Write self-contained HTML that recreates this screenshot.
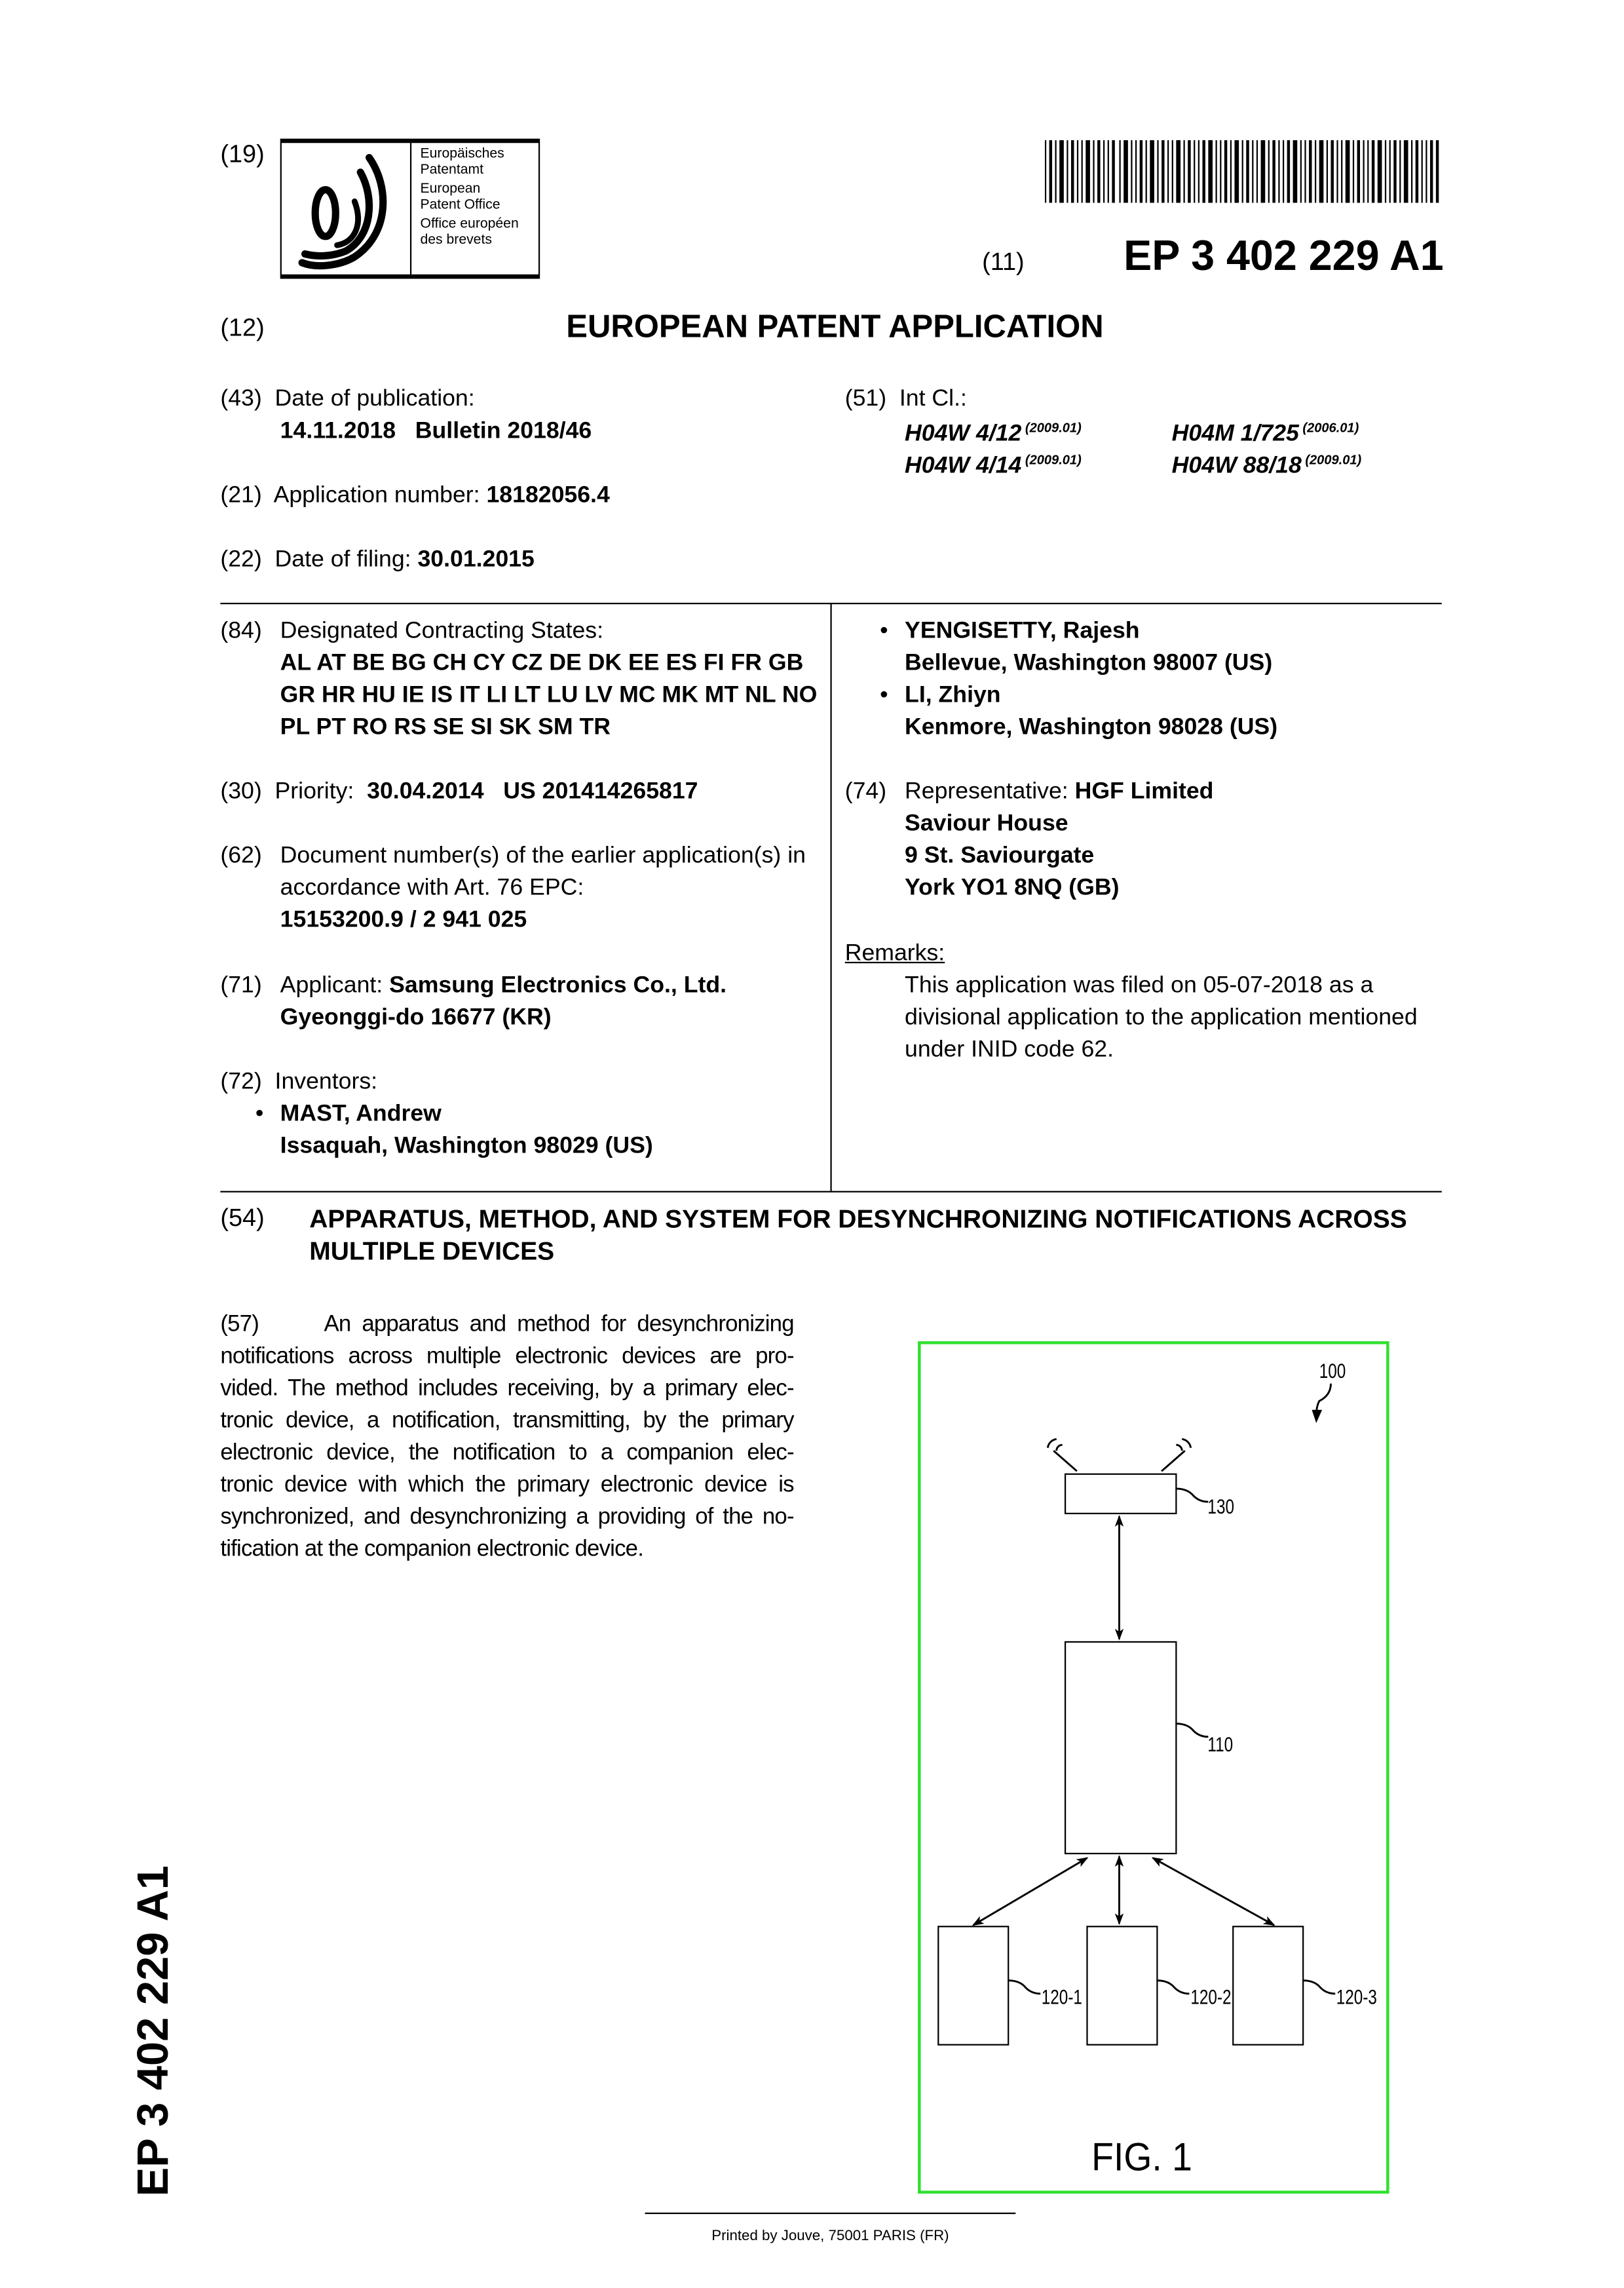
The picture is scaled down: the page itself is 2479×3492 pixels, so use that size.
<!DOCTYPE html>
<html><head><meta charset="utf-8"><style>
html,body{margin:0;padding:0;background:#fff;}
body{width:2479px;height:3492px;overflow:hidden;position:relative;}
#p{position:absolute;left:0;top:0;width:1100px;height:1550px;transform:scale(2.2275);transform-origin:0 0;font-family:"Liberation Sans",Arial,sans-serif;color:#000;font-size:16px;}
.t{position:absolute;white-space:nowrap;line-height:22px;}
b{font-weight:bold;}
sup{font-size:9px;font-style:italic;font-weight:bold;vertical-align:6px;}
.ib{font-style:italic;font-weight:bold;}
.ln{position:absolute;background:#000;}
.j{text-align:justify;text-align-last:justify;height:22px;white-space:nowrap;}
</style></head><body><div id="p">

<div class="t" style="left:151px;top:95px;font-size:17px">(19)</div>
<div style="position:absolute;left:192px;top:95px;width:176px;height:90px;border:1px solid #000;border-top:3px solid #000;border-bottom:3px solid #000;"></div>
<div class="ln" style="left:281px;top:96px;width:1px;height:92px"></div>
<svg style="position:absolute;left:195px;top:98px" width="86" height="88" viewBox="0 0 86 88">
<g fill="none" stroke="#000" stroke-linecap="round">
<path d="M58 10 C72 30 72 62 48 78 C38 84 22 86 12 82" stroke-width="5"/>
<path d="M52 20 C62 38 60 64 42 74 C32 78 22 78 14 76" stroke-width="5"/>
<path d="M48 40 C54 56 48 68 36 70" stroke-width="4"/>
<ellipse cx="28" cy="48" rx="7" ry="16" stroke-width="5"/>
</g></svg>
<div style="position:absolute;left:288px;top:101px;font-size:9.5px;line-height:10.5px;">Europäisches<br>Patentamt<br><div style="height:3px"></div>European<br>Patent Office<br><div style="height:3px"></div>Office européen<br>des brevets</div>

<svg style="position:absolute;left:716px;top:96px" width="271" height="43">
<g fill="#000">
<rect x="0" y="0" width="1" height="43"/><rect x="3" y="0" width="2" height="43"/><rect x="7" y="0" width="1" height="43"/><rect x="10" y="0" width="3" height="43"/><rect x="15" y="0" width="1" height="43"/><rect x="18" y="0" width="2" height="43"/><rect x="22" y="0" width="1" height="43"/><rect x="25" y="0" width="1" height="43"/><rect x="28" y="0" width="3" height="43"/><rect x="33" y="0" width="1" height="43"/><rect x="36" y="0" width="2" height="43"/><rect x="40" y="0" width="1" height="43"/><rect x="43" y="0" width="1" height="43"/><rect x="46" y="0" width="2" height="43"/><rect x="51" y="0" width="1" height="43"/><rect x="54" y="0" width="3" height="43"/><rect x="59" y="0" width="1" height="43"/><rect x="62" y="0" width="1" height="43"/><rect x="65" y="0" width="2" height="43"/><rect x="69" y="0" width="1" height="43"/><rect x="72" y="0" width="3" height="43"/><rect x="77" y="0" width="1" height="43"/><rect x="80" y="0" width="2" height="43"/><rect x="84" y="0" width="1" height="43"/><rect x="87" y="0" width="1" height="43"/><rect x="90" y="0" width="3" height="43"/><rect x="95" y="0" width="1" height="43"/><rect x="98" y="0" width="2" height="43"/><rect x="102" y="0" width="1" height="43"/><rect x="105" y="0" width="1" height="43"/><rect x="108" y="0" width="2" height="43"/><rect x="112" y="0" width="3" height="43"/><rect x="117" y="0" width="1" height="43"/><rect x="120" y="0" width="1" height="43"/><rect x="123" y="0" width="2" height="43"/><rect x="127" y="0" width="1" height="43"/><rect x="130" y="0" width="3" height="43"/><rect x="135" y="0" width="1" height="43"/><rect x="138" y="0" width="2" height="43"/><rect x="142" y="0" width="1" height="43"/><rect x="145" y="0" width="1" height="43"/><rect x="148" y="0" width="3" height="43"/><rect x="153" y="0" width="1" height="43"/><rect x="156" y="0" width="2" height="43"/><rect x="160" y="0" width="1" height="43"/><rect x="163" y="0" width="1" height="43"/><rect x="166" y="0" width="2" height="43"/><rect x="170" y="0" width="3" height="43"/><rect x="175" y="0" width="1" height="43"/><rect x="178" y="0" width="1" height="43"/><rect x="181" y="0" width="2" height="43"/><rect x="185" y="0" width="1" height="43"/><rect x="188" y="0" width="3" height="43"/><rect x="193" y="0" width="1" height="43"/><rect x="196" y="0" width="2" height="43"/><rect x="200" y="0" width="1" height="43"/><rect x="203" y="0" width="1" height="43"/><rect x="206" y="0" width="3" height="43"/><rect x="211" y="0" width="1" height="43"/><rect x="214" y="0" width="2" height="43"/><rect x="218" y="0" width="1" height="43"/><rect x="221" y="0" width="1" height="43"/><rect x="224" y="0" width="2" height="43"/><rect x="228" y="0" width="3" height="43"/><rect x="233" y="0" width="1" height="43"/><rect x="236" y="0" width="1" height="43"/><rect x="239" y="0" width="2" height="43"/><rect x="243" y="0" width="1" height="43"/><rect x="246" y="0" width="3" height="43"/><rect x="251" y="0" width="1" height="43"/><rect x="254" y="0" width="2" height="43"/><rect x="258" y="0" width="1" height="43"/><rect x="261" y="0" width="1" height="43"/><rect x="264" y="0" width="2" height="43"/><rect x="268" y="0" width="2" height="43"/>
</g></svg>

<div class="t" style="left:673px;top:169px;font-size:17px">(11)</div>
<div class="t" style="left:770px;top:158px;font-size:29px;line-height:36px;font-weight:bold;">EP 3 402 229 A1</div>

<div class="t" style="left:151px;top:214px;font-size:17px">(12)</div>
<div class="t" style="left:388px;top:211px;font-size:22px;line-height:26px;font-weight:bold;">EUROPEAN PATENT APPLICATION</div>

<div class="t" style="left:151px;top:263px">(43)&nbsp; Date of publication:</div>
<div class="t" style="left:192px;top:285px"><b>14.11.2018&nbsp;&nbsp; Bulletin 2018/46</b></div>

<div class="t" style="left:579px;top:263px">(51)&nbsp; Int Cl.:</div>
<div class="t ib" style="left:620px;top:282px">H04W 4/12<sup> (2009.01)</sup></div>
<div class="t ib" style="left:803px;top:282px">H04M 1/725<sup> (2006.01)</sup></div>
<div class="t ib" style="left:620px;top:304px">H04W 4/14<sup> (2009.01)</sup></div>
<div class="t ib" style="left:803px;top:304px">H04W 88/18<sup> (2009.01)</sup></div>

<div class="t" style="left:151px;top:329px">(21)&nbsp; Application number: <b>18182056.4</b></div>
<div class="t" style="left:151px;top:373px">(22)&nbsp; Date of filing: <b>30.01.2015</b></div>

<div class="ln" style="left:151px;top:413px;width:837px;height:1px"></div>
<div class="ln" style="left:569px;top:413px;width:1px;height:403px"></div>
<div class="ln" style="left:151px;top:816px;width:837px;height:1px"></div>

<div class="t" style="left:151px;top:422px">(84)</div>
<div class="t" style="left:192px;top:422px">Designated Contracting States:<br><b>AL AT BE BG CH CY CZ DE DK EE ES FI FR GB<br>GR HR HU IE IS IT LI LT LU LV MC MK MT NL NO<br>PL PT RO RS SE SI SK SM TR</b></div>

<div class="t" style="left:151px;top:532px">(30)&nbsp; Priority: &nbsp;<b>30.04.2014&nbsp;&nbsp; US 201414265817</b></div>

<div class="t" style="left:151px;top:576px">(62)</div>
<div class="t" style="left:192px;top:576px">Document number(s) of the earlier application(s) in<br>accordance with Art. 76 EPC:<br><b>15153200.9 / 2 941 025</b></div>

<div class="t" style="left:151px;top:665px">(71)</div>
<div class="t" style="left:192px;top:665px">Applicant: <b>Samsung Electronics Co., Ltd.</b><br><b>Gyeonggi-do 16677 (KR)</b></div>

<div class="t" style="left:151px;top:731px">(72)&nbsp; Inventors:</div>
<div class="t" style="left:175px;top:753px">•</div>
<div class="t" style="left:192px;top:753px"><b>MAST, Andrew<br>Issaquah, Washington 98029 (US)</b></div>

<div class="t" style="left:603px;top:422px">•</div>
<div class="t" style="left:620px;top:422px"><b>YENGISETTY, Rajesh<br>Bellevue, Washington 98007 (US)</b></div>
<div class="t" style="left:603px;top:466px">•</div>
<div class="t" style="left:620px;top:466px"><b>LI, Zhiyn<br>Kenmore, Washington 98028 (US)</b></div>

<div class="t" style="left:579px;top:532px">(74)</div>
<div class="t" style="left:620px;top:532px">Representative: <b>HGF Limited</b><br><b>Saviour House<br>9 St. Saviourgate<br>York YO1 8NQ (GB)</b></div>

<div class="t" style="left:579px;top:643px;text-decoration:underline">Remarks:</div>
<div class="t" style="left:620px;top:665px">This application was filed on 05-07-2018 as a<br>divisional application to the application mentioned<br>under INID code 62.</div>

<div class="t" style="left:151px;top:824px;font-size:17px">(54)</div>
<div class="t" style="left:212px;top:824px;font-size:17.5px;font-weight:bold">APPARATUS, METHOD, AND SYSTEM FOR DESYNCHRONIZING NOTIFICATIONS ACROSS<br>MULTIPLE DEVICES</div>

<div style="position:absolute;left:151px;top:897px;width:393px;line-height:22px;font-size:15.6px;letter-spacing:-0.35px;">
<div class="j">(57)&nbsp;&nbsp;&nbsp;&nbsp;&nbsp; An apparatus and method for desynchronizing</div>
<div class="j">notifications across multiple electronic devices are pro-</div>
<div class="j">vided. The method includes receiving, by a primary elec-</div>
<div class="j">tronic device, a notification, transmitting, by the primary</div>
<div class="j">electronic device, the notification to a companion elec-</div>
<div class="j">tronic device with which the primary electronic device is</div>
<div class="j">synchronized, and desynchronizing a providing of the no-</div>
<div style="height:22px;white-space:nowrap">tification at the companion electronic device.</div>
</div>

<div style="position:absolute;left:629px;top:919px;width:319px;height:580px;border:2px solid #2fe02f;"></div>
<svg style="position:absolute;left:0;top:0" width="1100" height="1550" viewBox="0 0 1100 1550">
<defs><marker id="a" markerWidth="8" markerHeight="8" refX="7" refY="4" orient="auto-start-reverse" markerUnits="userSpaceOnUse"><path d="M0,1 L8,4 L0,7 L2,4 Z" fill="#000"/></marker></defs>
<g fill="#fff" stroke="#000" stroke-width="1">
<rect x="730" y="1010" width="76" height="27"/>
<rect x="730" y="1125" width="76" height="145"/>
<rect x="643" y="1320" width="48" height="81"/>
<rect x="745" y="1320" width="48" height="81"/>
<rect x="845" y="1320" width="48" height="81"/>
</g>
<g stroke="#000" stroke-width="1.3" fill="none">
<line x1="767" y1="1039" x2="767" y2="1123" marker-start="url(#a)" marker-end="url(#a)"/>
<line x1="767" y1="1272" x2="767" y2="1318" marker-start="url(#a)" marker-end="url(#a)"/>
<line x1="745" y1="1273" x2="667" y2="1319" marker-start="url(#a)" marker-end="url(#a)"/>
<line x1="790" y1="1273" x2="873" y2="1319" marker-start="url(#a)" marker-end="url(#a)"/>
<path d="M738 1008 L722 994 M796 1008 L812 994"/>
<path d="M724 986 a7 7 0 0 0 -6 6 M728 990 a4 4 0 0 0 -4 4 M810 986 a7 7 0 0 1 6 6 M806 990 a4 4 0 0 1 4 4"/>
<path d="M806 1020 q8 0 12 5 q4 4 10 4"/>
<path d="M806 1181 q8 0 12 5 q4 4 10 4"/>
<path d="M691 1357 q8 0 12 5 q4 4 10 4"/>
<path d="M793 1357 q8 0 12 5 q4 4 10 4"/>
<path d="M893 1357 q8 0 12 5 q4 4 10 4"/>
<path d="M912 948 q0 8 -8 12 q-2 4 -2 10"/>
</g>
<path d="M899 966 L906 966 L902 975 Z" fill="#000"/>
<g font-family="Liberation Sans, Arial, sans-serif" font-size="14" fill="#000" transform="scale(0.78,1)">
<text x="1061" y="1037">130</text>
<text x="1061" y="1200">110</text>
<text x="915" y="1373">120-1</text>
<text x="1046" y="1373">120-2</text>
<text x="1174" y="1373">120-3</text>
<text x="1159" y="944">100</text>
</g>
<text x="748" y="1487" font-family="Liberation Sans, Arial, sans-serif" font-size="27" transform="translate(748,0) scale(0.92,1) translate(-748,0)">FIG. 1</text>
</svg>

<div class="ln" style="left:442px;top:1516px;width:254px;height:1px"></div>
<div class="t" style="left:442px;top:1522px;width:254px;text-align:center;font-size:10px">Printed by Jouve, 75001 PARIS (FR)</div>

<div style="position:absolute;left:88px;top:1505px;transform:rotate(-90deg);transform-origin:0 0;font-size:30px;font-weight:bold;line-height:36px;white-space:nowrap;">EP 3 402 229 A1</div>

</div></body></html>
